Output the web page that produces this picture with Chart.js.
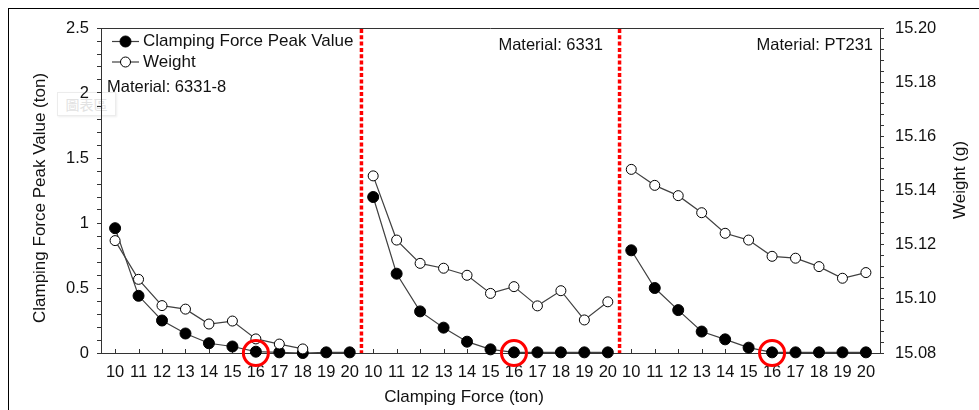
<!DOCTYPE html>
<html>
<head>
<meta charset="utf-8">
<script src="https://cdn.jsdelivr.net/npm/chart.js@4/dist/chart.umd.min.js"></script>
<style>
    body { margin: 0; background: #fff; }
    #wrap { position: relative; width: 979px; height: 410px; overflow: hidden; }
    #frame { position: absolute; left: 8px; top: 8px; width: 2000px; height: 2000px; border: 1.5px solid #000; }
    #ghost { position: absolute; left: 57px; top: 92px; width: 57px; height: 22px; border: 1px solid #ececec;
             box-shadow: 1px 1px 2px #eee; color: #e2e2e2; font: 14px "Noto Sans CJK TC"; text-align: center; line-height: 22px; }
    #barChart { position: absolute; left: 0; top: 0; }
</style>
</head>
<body>
<div id="wrap">
    <div id="frame"></div>
    <div id="ghost">圖表區</div>
    <canvas id="barChart" width="979" height="410"></canvas>
</div>
<script>
// Clamping force categories, repeated for each material panel
const clampingForce = [10, 11, 12, 13, 14, 15, 16, 17, 18, 19, 20];
const materials = ["Material: 6331-8", "Material: 6331", "Material: PT231"];

// Clamping force peak value (ton), left axis
const peak6331_8 = [0.96, 0.44, 0.25, 0.15, 0.075, 0.05, 0.01, 0.005, 0.0, 0.005, 0.005];
const peak6331 = [1.20, 0.61, 0.32, 0.195, 0.087, 0.028, 0.005, 0.005, 0.005, 0.005, 0.005];
const peakPT231 = [0.79, 0.50, 0.33, 0.165, 0.105, 0.041, 0.005, 0.005, 0.005, 0.005, 0.005];

// Weight (g), right axis (6331-8 has no weight at 19 and 20)
const weight6331_8 = [15.1215, 15.1072, 15.0975, 15.0962, 15.0907, 15.0918, 15.0852, 15.0833, 15.0815, null, null];
const weight6331 = [15.1454, 15.1217, 15.1131, 15.1113, 15.1087, 15.1020, 15.1045, 15.0974, 15.1030, 15.0922, 15.0989];
const weightPT231 = [15.1478, 15.1419, 15.1381, 15.1318, 15.1242, 15.1217, 15.1157, 15.1150, 15.1119, 15.1076, 15.1097];

// The force picked out with a red circle in every panel
const markedForce = 16;

const peakSeries = [peak6331_8, peak6331, peakPT231];
const weightSeries = [weight6331_8, weight6331, weightPT231];

const lineColor = "#404040";
const textColor = "#111";
const axisColor = "#333";
const tickFont = { family: "Liberation Sans", size: 16.5 };

// turn one panel's values into {x, y} points on the shared x axis
function panelPoints(values, panel) {
    return values
        .map((v, i) => ({ x: panel * clampingForce.length + i, y: v }))
        .filter(p => p.y !== null);
}

const datasets = [];
for (let p = 0; p < 3; p++) {
    datasets.push({
        data: panelPoints(weightSeries[p], p),
        yAxisID: "y1",
        borderColor: lineColor,
        borderWidth: 1.2,
        pointRadius: 5,
        pointBackgroundColor: "#fff",
        pointBorderColor: "#000",
        pointBorderWidth: 1,
        clip: false,
        order: 2
    });
    datasets.push({
        data: panelPoints(peakSeries[p], p),
        yAxisID: "y",
        borderColor: lineColor,
        borderWidth: 1.2,
        pointRadius: 5.5,
        pointBackgroundColor: "#000",
        pointBorderColor: "#000",
        pointBorderWidth: 1,
        clip: false,
        order: 3
    });
}
// red circles round the marked force
const markIndex = clampingForce.indexOf(markedForce);
datasets.push({
    data: [0, 1, 2].map(p => ({ x: p * clampingForce.length + markIndex, y: 0 })),
    yAxisID: "y",
    showLine: false,
    pointRadius: 12.5,
    pointBorderWidth: 3,
    pointBorderColor: "#ff0000",
    pointBackgroundColor: "rgba(0,0,0,0)",
    clip: false,
    order: 1
});

// frame, separators, inside tick marks, legend and all free text
const decorations = {
    id: "decorations",
    beforeDatasetsDraw(chart) {
        const ctx = chart.ctx;
        const area = chart.chartArea;
        const x = chart.scales.x;
        ctx.save();
        // top border of the plot area
        ctx.strokeStyle = axisColor;
        ctx.lineWidth = 1;
        ctx.beginPath();
        ctx.moveTo(area.left, area.top + 0.5);
        ctx.lineTo(area.right, area.top + 0.5);
        ctx.stroke();
        // x ticks point up into the plot
        for (let i = 0; i < 3 * clampingForce.length; i++) {
            const px = Math.round(x.getPixelForValue(i)) + 0.5;
            ctx.beginPath();
            ctx.moveTo(px, area.bottom);
            ctx.lineTo(px, area.bottom - 4);
            ctx.stroke();
        }
        // red dotted separators between materials
        ctx.strokeStyle = "#ff0000";
        ctx.lineWidth = 3.5;
        ctx.setLineDash([4, 2.3]);
        [1, 2].forEach(p => {
            const px = x.getPixelForValue(p * clampingForce.length - 0.5);
            ctx.beginPath();
            ctx.moveTo(px, area.top + 1);
            ctx.lineTo(px, area.bottom);
            ctx.stroke();
        });
        ctx.restore();
    },
    afterDraw(chart) {
        const ctx = chart.ctx;
        ctx.save();
        ctx.fillStyle = textColor;
        ctx.textBaseline = "middle";

        // legend
        ctx.font = "17px 'Liberation Sans'";
        const legend = [
            { label: "Clamping Force Peak Value", y: 41.5, fill: "#000", r: 5.5 },
            { label: "Weight", y: 62, fill: "#fff", r: 5 }
        ];
        legend.forEach(item => {
            ctx.strokeStyle = lineColor;
            ctx.lineWidth = 1.2;
            ctx.beginPath();
            ctx.moveTo(112, item.y);
            ctx.lineTo(139, item.y);
            ctx.stroke();
            ctx.beginPath();
            ctx.arc(125.5, item.y, item.r, 0, Math.PI * 2);
            ctx.fillStyle = item.fill;
            ctx.fill();
            ctx.strokeStyle = "#000";
            ctx.lineWidth = 1;
            ctx.stroke();
            ctx.fillStyle = textColor;
            ctx.textAlign = "left";
            ctx.fillText(item.label, 143, item.y);
        });

        // material names
        ctx.font = "16.5px 'Liberation Sans'";
        ctx.textAlign = "left";
        ctx.fillText(materials[0], 107, 87);
        ctx.textAlign = "right";
        ctx.fillText(materials[1], 603, 45);
        ctx.fillText(materials[2], 873, 45);

        // axis titles
        ctx.font = "17px 'Liberation Sans'";
        ctx.textAlign = "center";
        ctx.fillText("Clamping Force (ton)", 464, 397);
        ctx.translate(40, 198);
        ctx.rotate(-Math.PI / 2);
        ctx.fillText("Clamping Force Peak Value (ton)", 0, 0);
        ctx.rotate(Math.PI / 2);
        ctx.translate(920, -18);
        ctx.rotate(-Math.PI / 2);
        ctx.fillText("Weight (g)", 0, 0);
        ctx.restore();
    }
};

const chart = new Chart(document.getElementById("barChart").getContext("2d"), {
    type: "line",
    data: { datasets: datasets },
    options: {
        responsive: false,
        animation: false,
        layout: { padding: { top: 28 } },
        plugins: { legend: { display: false }, tooltip: { enabled: false } },
        scales: {
            x: {
                type: "linear",
                min: -0.6,
                max: 3 * clampingForce.length - 0.4,
                afterBuildTicks: axis => {
                    axis.ticks = [];
                    for (let i = 0; i < 3 * clampingForce.length; i++) axis.ticks.push({ value: i });
                },
                afterFit: axis => { axis.height = 57; },
                grid: { display: true, drawOnChartArea: false, drawTicks: false },
                border: { display: true, color: axisColor, width: 1 },
                ticks: {
                    autoSkip: false,
                    maxRotation: 0,
                    padding: 10,
                    color: textColor,
                    font: tickFont,
                    callback: v => String(clampingForce[v % clampingForce.length])
                }
            },
            y: {
                position: "left",
                min: 0,
                max: 2.5,
                afterBuildTicks: axis => {
                    axis.ticks = [];
                    for (let k = 0; k <= 25; k++) axis.ticks.push({ value: k / 10 });
                },
                afterFit: axis => { axis.width = 101; },
                grid: { drawOnChartArea: false, tickLength: 4, color: axisColor },
                border: { display: true, color: axisColor, width: 1 },
                ticks: {
                    autoSkip: false,
                    padding: 8,
                    color: textColor,
                    font: tickFont,
                    callback: v => {
                        const k = Math.round(v * 10);
                        return k % 5 === 0 ? String(k / 10) : "";
                    }
                }
            },
            y1: {
                position: "right",
                min: 15.08,
                max: 15.20,
                afterBuildTicks: axis => {
                    axis.ticks = [];
                    for (let k = 0; k <= 30; k++) axis.ticks.push({ value: 15.08 + k * 0.004 });
                },
                afterFit: axis => { axis.width = 99; },
                grid: { drawOnChartArea: false, tickLength: 4, color: axisColor },
                border: { display: true, color: axisColor, width: 1 },
                ticks: {
                    autoSkip: false,
                    padding: 11,
                    color: textColor,
                    font: tickFont,
                    callback: v => {
                        const k = Math.round((v - 15.08) / 0.004);
                        return k % 5 === 0 ? v.toFixed(2) : "";
                    }
                }
            }
        }
    },
    plugins: [decorations]
});
</script>
</body>
</html>
